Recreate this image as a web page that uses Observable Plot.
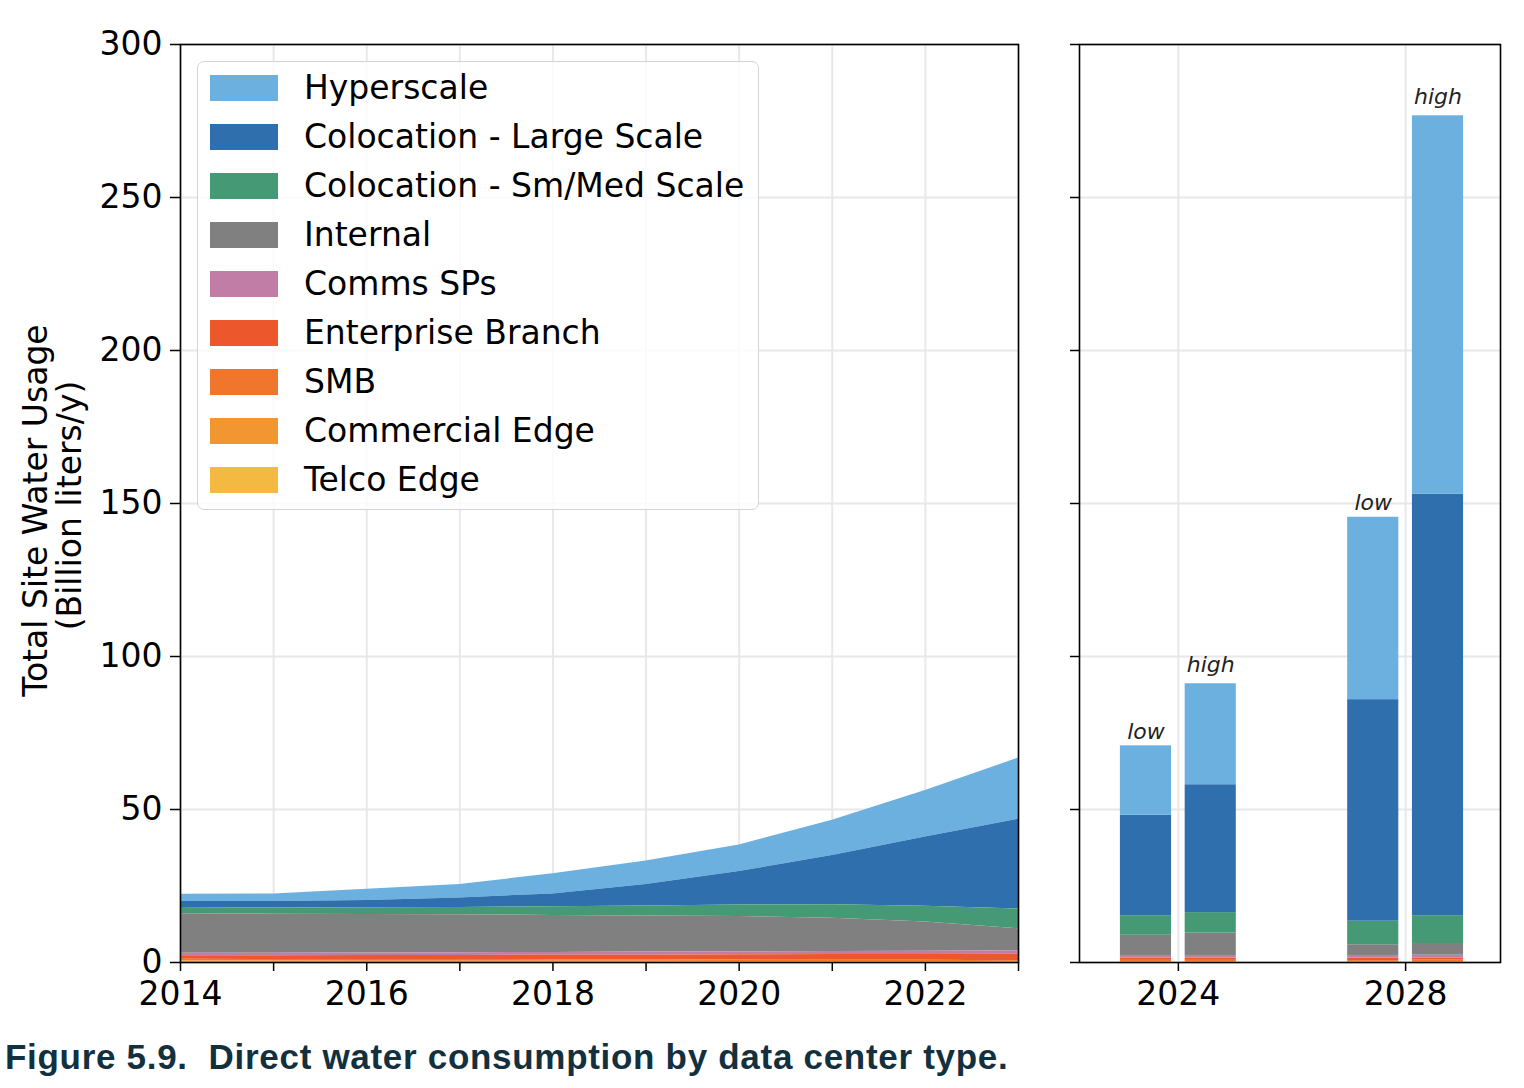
<!DOCTYPE html>
<html>
<head>
<meta charset="utf-8">
<script src="https://cdn.jsdelivr.net/npm/d3@7"></script>
<script src="https://cdn.jsdelivr.net/npm/@observablehq/plot@0.6"></script>
<style>
  body { margin: 0; background: #fff; }
  #wrap { position: relative; width: 1524px; height: 1088px; overflow: hidden; background: #fff; font-family: "DejaVu Sans", sans-serif; }
  #left { position: absolute; left: 0; top: 0; }
  #right { position: absolute; left: 1030px; top: 0; }
  #legend { position: absolute; left: 197px; top: 61px; width: 562px; height: 449px; box-sizing: border-box;
            border: 1.5px solid #d4d4d4; border-radius: 7px; background: rgba(255,255,255,0.8); }
  .sw { position: absolute; left: 12px; width: 68px; height: 26px; }
  .lt { position: absolute; left: 106px; font: 33px "DejaVu Sans", sans-serif; color: #000; line-height: 1; white-space: pre; }
  #caption { position: absolute; left: 5px; top: 1037px; font: bold 35px "Liberation Sans", Arial, sans-serif;
             color: #13303f; white-space: pre; letter-spacing: 0.7px; }
</style>
</head>
<body>
<div id="wrap">
  <div id="left"></div>
  <div id="right"></div>
  <div id="legend"></div>
  <div id="caption">Figure 5.9.  Direct water consumption by data center type.</div>
</div>
<script>
// ---------- data ----------
const years = [2014, 2015, 2016, 2017, 2018, 2019, 2020, 2021, 2022, 2023];

const seriesNames = ["Hyperscale", "Colocation - Large Scale", "Colocation - Sm/Med Scale", "Internal",
  "Comms SPs", "Enterprise Branch", "SMB", "Commercial Edge", "Telco Edge"];
const seriesColors = ["#6cb0e0", "#2f6fad", "#459a75", "#808080", "#c17da5", "#ec582c", "#ef762c", "#f29632", "#f3b941"];

// historical (2014-2023), billion liters / y
const hyperscale        = [2.4, 2.5, 3.6, 4.4, 6.6, 7.7, 8.7, 11.5, 15.2, 20.0];
const colocationLarge   = [1.9, 2.1, 2.4, 3.1, 4.2, 7.0, 10.9, 16.1, 22.6, 29.3];
const colocationSmMed   = [2.1, 2.0, 2.2, 2.4, 2.8, 3.3, 3.8, 4.4, 5.2, 6.5];
const internal          = [12.9, 12.8, 12.6, 12.4, 12.1, 11.8, 11.5, 10.9, 9.5, 7.2];
const commsSPs          = [0.8, 0.8, 0.8, 0.9, 0.9, 1.0, 1.0, 1.0, 1.1, 1.1];
const enterpriseBranch  = [1.1, 1.2, 1.3, 1.3, 1.5, 1.5, 1.7, 1.9, 1.9, 2.1];
const smb               = [0.6, 0.5, 0.6, 0.6, 0.5, 0.5, 0.5, 0.4, 0.4, 0.3];
const commercialEdge    = [0.4, 0.4, 0.3, 0.3, 0.3, 0.3, 0.2, 0.2, 0.2, 0.2];
const telcoEdge         = [0.1, 0.1, 0.1, 0.1, 0.1, 0.1, 0.1, 0.1, 0.1, 0.1];

// projections: bars
const barYears     = [2024, 2024, 2028, 2028];
const barScenarios = ["low", "high", "low", "high"];
const barHyperscale       = [22.7, 33.0, 59.6, 123.7];
const barColocationLarge  = [32.8, 41.8, 72.4, 137.7];
const barColocationSmMed  = [6.4, 6.7, 7.7, 9.1];
const barInternal         = [6.6, 7.3, 3.5, 3.8];
const barCommsSPs         = [0.9, 0.9, 0.9, 1.0];
const barEnterpriseBranch = [0.7, 0.7, 0.8, 0.5];
const barSmb              = [0.4, 0.4, 0.3, 0.6];
const barCommercialEdge   = [0.2, 0.2, 0.2, 0.2];
const barTelcoEdge        = [0.1, 0.1, 0.1, 0.1];

const yTicks = [0, 50, 100, 150, 200, 250, 300];
const leftXTickLabels = [2014, 2016, 2018, 2020, 2022];
const rightXTicks = [2024, 2028];

// ---------- derived tables ----------
const histSeries = [hyperscale, colocationLarge, colocationSmMed, internal, commsSPs, enterpriseBranch, smb, commercialEdge, telcoEdge];
const barSeries = [barHyperscale, barColocationLarge, barColocationSmMed, barInternal, barCommsSPs, barEnterpriseBranch, barSmb, barCommercialEdge, barTelcoEdge];
const stackOrder = seriesNames.slice().reverse(); // bottom first

const histRows = years.flatMap((yr, i) => seriesNames.map((s, k) => ({year: yr, series: s, value: histSeries[k][i]})));

const barRows = [];
const barTops = [];
barYears.forEach((yr, j) => {
  let base = 0;
  stackOrder.forEach(s => {
    const k = seriesNames.indexOf(s);
    const v = barSeries[k][j];
    barRows.push({year: yr, scenario: barScenarios[j], series: s, y1: base, y2: base + v});
    base += v;
  });
  barTops.push({year: yr, scenario: barScenarios[j], total: base});
});

// ---------- styles ----------
const FONT = "DejaVu Sans";
const gridStroke = "#e8e8e8";
const color = {domain: seriesNames, range: seriesColors};
const barOffset = {low: -0.57, high: 0.57};
const barHalf = 0.45;

const leftPlot = Plot.plot({
  width: 1030, height: 1010,
  marginLeft: 180, marginRight: 12, marginTop: 44, marginBottom: 48,
  style: {fontFamily: FONT, fontSize: "33px", color: "#000", background: "transparent", overflow: "visible"},
  x: {domain: [2014, 2023]},
  y: {domain: [0, 300]},
  color,
  marks: [
    Plot.gridX(years, {stroke: gridStroke, strokeOpacity: 1, strokeWidth: 2}),
    Plot.gridY(yTicks, {stroke: gridStroke, strokeOpacity: 1, strokeWidth: 2}),
    Plot.areaY(histRows, {x: "year", y: "value", fill: "series", order: stackOrder, curve: "linear"}),
    Plot.frame({stroke: "#000", strokeWidth: 1.6}),
    Plot.axisX({ticks: years, tickFormat: d => leftXTickLabels.includes(d) ? String(d) : "", tickSize: 9, tickPadding: 10, strokeWidth: 1.5, label: null, fontSize: 33}),
    Plot.axisY({ticks: yTicks, tickFormat: d => String(d), tickSize: 10, tickPadding: 8, strokeWidth: 1.5, label: null, fontSize: 33}),
    Plot.text(["Total Site Water Usage"], {frameAnchor: "left", textAnchor: "middle", text: d => d, rotate: -90, dx: -144, dy: 7, fontSize: 33}),
    Plot.text(["(Billion liters/y)"], {frameAnchor: "left", textAnchor: "middle", text: d => d, rotate: -90, dx: -110, dy: 2, fontSize: 33})
  ]
});
document.getElementById("left").appendChild(leftPlot);

const labelStyle = {x: d => d.year + barOffset[d.scenario], y: "total", text: "scenario",
  lineAnchor: "bottom", fontSize: 22, fontStyle: "italic", fill: "#222"};

const rightPlot = Plot.plot({
  width: 494, height: 1010,
  marginLeft: 49, marginRight: 24, marginTop: 44, marginBottom: 48,
  style: {fontFamily: FONT, fontSize: "33px", color: "#000", background: "transparent", overflow: "visible"},
  x: {domain: [2022.26, 2029.67]},
  y: {domain: [0, 300]},
  color,
  marks: [
    Plot.gridX(rightXTicks, {stroke: gridStroke, strokeOpacity: 1, strokeWidth: 2}),
    Plot.gridY(yTicks, {stroke: gridStroke, strokeOpacity: 1, strokeWidth: 2}),
    Plot.rect(barRows, {
      x1: d => d.year + barOffset[d.scenario] - barHalf,
      x2: d => d.year + barOffset[d.scenario] + barHalf,
      y1: "y1", y2: "y2", fill: "series"
    }),
    Plot.text(barTops.filter(d => d.scenario === "low"), {...labelStyle, dy: -7}),
    Plot.text(barTops.filter(d => d.scenario === "high"), {...labelStyle, dy: -12}),
    Plot.frame({stroke: "#000", strokeWidth: 1.6}),
    Plot.axisX({ticks: rightXTicks, tickFormat: d => String(d), tickSize: 9, tickPadding: 10, strokeWidth: 1.5, label: null, fontSize: 33}),
    Plot.axisY({ticks: yTicks, tickFormat: () => "", tickSize: 9, strokeWidth: 1.5, label: null})
  ]
});
document.getElementById("right").appendChild(rightPlot);

// ---------- legend ----------
const legend = document.getElementById("legend");
seriesNames.forEach((s, i) => {
  const cy = 26 + i * 49;
  const sw = document.createElement("div");
  sw.className = "sw";
  sw.style.top = (cy - 13) + "px";
  sw.style.background = seriesColors[i];
  legend.appendChild(sw);
  const t = document.createElement("div");
  t.className = "lt";
  t.style.top = (cy - 17) + "px";
  t.textContent = s;
  legend.appendChild(t);
});
</script>
</body>
</html>
